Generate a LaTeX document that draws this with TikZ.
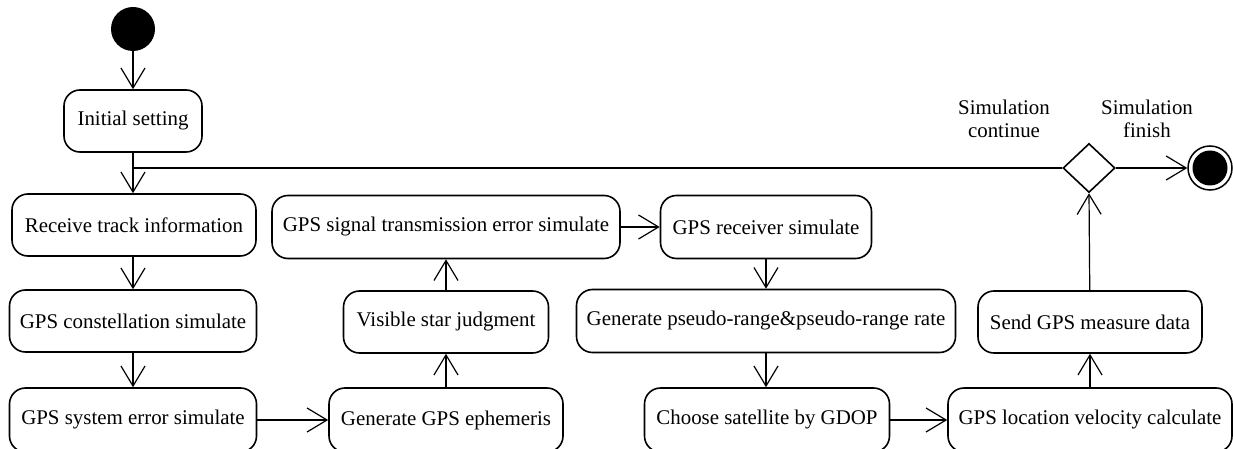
\documentclass[tikz,border=0pt]{standalone}
\usepackage{fontspec}
\setmainfont{Liberation Serif}
\usetikzlibrary{arrows.meta,shapes.geometric}
\begin{document}
\begin{tikzpicture}[x=1pt,y=-1pt,
  font=\fontsize{20.9}{24}\selectfont,
  act/.style={draw,line width=1.6pt,rounded corners=16pt,inner sep=0pt,align=center},
  flow/.style={line width=1.2pt,-{Straight Barb[length=20pt,width=24pt,line width=1.2pt]}},
  plain/.style={line width=1.2pt},
  lbl/.style={align=center,inner sep=0pt,font=\fontsize{20.9}{23}\selectfont}]
\useasboundingbox (0,0) rectangle (1233,449);

% initial and final states
\node[circle,fill=black,minimum size=44pt,inner sep=0pt] (start) at (133,29) {};
\node[circle,draw,line width=1.5pt,minimum size=44pt,inner sep=0pt] (fin) at (1210,168) {};
\fill (fin.center) circle (17.5pt);

% decision
\node[diamond,draw,line width=1.6pt,minimum width=52pt,minimum height=49pt,inner sep=0pt] (dec) at (1089,168) {};

% activities
\node[act,minimum width=138pt,minimum height=62pt] (init) at (133,121) {Initial setting};
\node[act,minimum width=244pt,minimum height=62pt] (recv) at (134,225) {Receive track information};
\node[act,minimum width=247pt,minimum height=62pt] (const) at (133,321) {GPS constellation simulate};
\node[act,minimum width=247pt,minimum height=64pt] (syserr) at (133,420) {GPS system error simulate};
\node[act,minimum width=234pt,minimum height=64pt] (eph) at (446,420) {Generate GPS ephemeris};
\node[act,minimum width=205pt,minimum height=62pt] (vis) at (446,322) {Visible star judgment};
\node[act,minimum width=348pt,minimum height=63pt] (sig) at (446,227) {GPS signal transmission error simulate};
\node[act,minimum width=211pt,minimum height=63pt] (rcv) at (766,227) {GPS receiver simulate};
\node[act,minimum width=379pt,minimum height=63pt] (pseudo) at (766,321) {Generate pseudo-range\&pseudo-range rate};
\node[act,minimum width=245pt,minimum height=64pt] (gdop) at (767,420) {Choose satellite by GDOP};
\node[act,minimum width=284pt,minimum height=64pt] (loc) at (1090,420) {GPS location velocity calculate};
\node[act,minimum width=224pt,minimum height=62pt] (send) at (1090,322) {Send GPS measure data};

% guard labels
\node[lbl] (lcont) at (1004,119) {Simulation\\continue};
\node[lbl] (lfin) at (1147,119) {Simulation\\finish};

% control flow
\coordinate (branch) at (init.south |- dec.west);
\draw[flow] (start) -- (init);
\draw[flow] (init) -- (init.south |- recv.north);
\draw[plain] (branch) -- (dec.west);
\draw[flow] (recv.south -| const.north) -- (const);
\draw[flow] (const) -- (syserr);
\draw[flow] (syserr) -- (eph);
\draw[flow] (eph) -- (vis);
\draw[flow] (vis) -- (sig);
\draw[flow] (sig) -- (rcv);
\draw[flow] (rcv) -- (rcv.south |- pseudo.north);
\draw[flow] (rcv.south |- pseudo.south) -- (gdop.north -| rcv.south);
\draw[flow] (gdop) -- (loc);
\draw[flow] (loc) -- (send);
\draw[flow] (send) -- (dec.south);
\draw[flow] (dec.east) -- (fin);
\end{tikzpicture}
\end{document}
